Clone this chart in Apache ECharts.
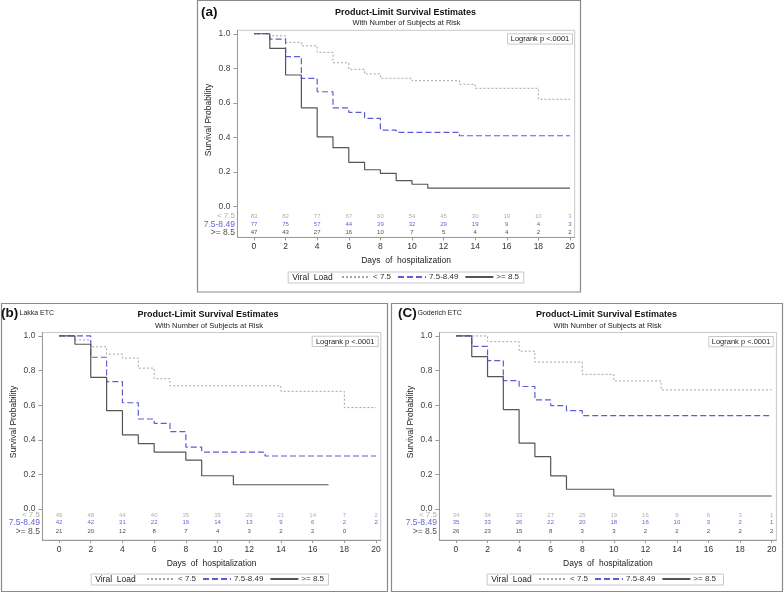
<!DOCTYPE html>
<html><head><meta charset="utf-8">
<script src="https://cdn.jsdelivr.net/npm/echarts@6/dist/echarts.min.js"></script>
<style>html,body{margin:0;padding:0;background:#fff}#c{width:784px;height:593px}</style>
</head><body><div id="c"></div>
<script>
// ---- data ----
const days = [0,2,4,6,8,10,12,14,16,18,20];
const yTicks = [0,0.2,0.4,0.6,0.8,1.0];
const groups = ['< 7.5','7.5-8.49','>= 8.5'];

// Kaplan-Meier step points [day, survival] - panel (a)
const survA_low  = [[0,1],[1,0.988],[2,0.95],[3,0.93],[4,0.892],[5,0.832],[6,0.794],[7,0.767],[8,0.742],[10,0.728],[13,0.707],[14,0.684],[18,0.62],[20,0.62]];
const survA_mid  = [[0,1],[1,0.969],[2,0.867],[3,0.741],[4,0.664],[5,0.571],[6,0.545],[7,0.51],[8,0.442],[9,0.429],[13,0.409],[20,0.409]];
const survA_high = [[0,1],[1,0.915],[2,0.761],[3,0.571],[4,0.403],[5,0.34],[6,0.255],[7,0.212],[8,0.191],[9,0.149],[10,0.128],[11,0.106],[20,0.106]];
// panel (b) Lakka ETC
const survB_low  = [[0,1],[1,0.977],[2,0.937],[3,0.895],[4,0.872],[5,0.814],[6,0.753],[7,0.712],[14,0.68],[18,0.586],[20,0.586]];
const survB_mid  = [[0,1],[2,0.877],[3,0.736],[4,0.614],[5,0.52],[6,0.495],[7,0.447],[8,0.357],[9,0.329],[13,0.306],[20,0.306]];
const survB_high = [[0,1],[1,0.952],[2,0.761],[3,0.568],[4,0.428],[5,0.378],[6,0.329],[8,0.282],[9,0.192],[11,0.14],[17,0.14]];
// panel (c) Goderich ETC
const survC_low  = [[0,1],[2,0.967],[4,0.912],[5,0.849],[8,0.778],[10,0.74],[13,0.688],[20,0.688]];
const survC_mid  = [[0,1],[1,0.94],[2,0.857],[3,0.742],[4,0.708],[5,0.63],[6,0.597],[7,0.568],[8,0.539],[20,0.539]];
const survC_high = [[0,1],[1,0.88],[2,0.765],[3,0.574],[4,0.38],[5,0.302],[6,0.191],[7,0.114],[10,0.075],[20,0.075]];

// number of subjects at risk at days 0,2,...,20
const riskA_low  = [83,82,77,67,60,54,45,30,19,10,3];
const riskA_mid  = [77,75,57,44,39,32,29,19,9,4,3];
const riskA_high = [47,43,27,16,10,7,5,4,4,2,2];
const riskB_low  = [49,48,44,40,35,35,29,21,14,7,2];
const riskB_mid  = [42,42,31,22,19,14,13,9,6,2,2];
const riskB_high = [21,20,12,8,7,4,3,2,2,0,null];
const riskC_low  = [34,34,33,27,25,19,16,9,6,3,1];
const riskC_mid  = [35,33,26,22,20,18,16,10,3,2,1];
const riskC_high = [26,23,15,8,3,3,2,2,2,2,2];

// ---- styling / layout ----
const FONT = '"Liberation Sans", Arial, sans-serif';
const lineColors = ['#a3a3a3','#5c5cd8','#555555'];
const lineTypes = [[2,2],[6,3],'solid'];
const lineWidths = [1,1.2,1.2];
const riskColors = ['#9a9a9a','#3a3acc','#222222'];
const rowLabelColors = ['#9a9a9a','#3a3acc','#222222'];
const XMIN = -1.05, XMAX = 20.3;

const panels = [
  {grid:{left:237.4,top:30.3,width:337.3,height:207.1}, rows:[-0.056,-0.104,-0.153],
   curves:[survA_low,survA_mid,survA_high], risk:[riskA_low,riskA_mid,riskA_high], legendLeft:341, legendTop:273},
  {grid:{left:42.4,top:332.5,width:338.4,height:207.6}, rows:[-0.035,-0.079,-0.129],
   curves:[survB_low,survB_mid,survB_high], risk:[riskB_low,riskB_mid,riskB_high], legendLeft:146, legendTop:575},
  {grid:{left:439.4,top:332.5,width:337,height:207.6}, rows:[-0.035,-0.079,-0.129],
   curves:[survC_low,survC_mid,survC_high], risk:[riskC_low,riskC_mid,riskC_high], legendLeft:538, legendTop:575}
];

const grids=[], xAxes=[], yAxes=[], series=[], legends=[];
panels.forEach((p,i)=>{
  grids.push(Object.assign({show:true,borderColor:'#c8c8c8',borderWidth:1,containLabel:false}, p.grid));
  xAxes.push({gridIndex:i,type:'value',min:XMIN,max:XMAX,
    splitLine:{show:false},
    axisLine:{show:true,onZero:false,lineStyle:{color:'#999',width:1}},
    axisTick:{show:true,customValues:days,length:3,lineStyle:{color:'#999'}},
    axisLabel:{customValues:days,margin:5,fontSize:8.5,color:'#333',fontFamily:FONT},
    name:'Days  of  hospitalization',nameLocation:'middle',nameGap:19,
    nameTextStyle:{fontSize:8.5,color:'#222',fontFamily:FONT}});
  yAxes.push({gridIndex:i,type:'value',min:-0.18,max:1.02,
    splitLine:{show:false},
    axisLine:{show:true,onZero:false,lineStyle:{color:'#999',width:1}},
    axisTick:{show:true,customValues:yTicks,length:4,lineStyle:{color:'#999'}},
    axisLabel:{customValues:yTicks,margin:7,fontSize:8.5,color:'#444',fontFamily:FONT,
      formatter:v=>v.toFixed(1)}});
  p.curves.forEach((c,k)=>{
    series.push({name:groups[k],type:'line',step:'end',symbol:'none',xAxisIndex:i,yAxisIndex:i,
      data:c,color:lineColors[k],z:2+k,
      lineStyle:{color:lineColors[k],width:lineWidths[k],type:lineTypes[k]}});
  });
  // at-risk numbers
  p.risk.forEach((arr,k)=>{
    const d=[];
    arr.forEach((n,j)=>{ if(n!==null) d.push([days[j],p.rows[k],n]); });
    series.push({name:'risk'+i+'_'+k,type:'scatter',xAxisIndex:i,yAxisIndex:i,silent:true,
      symbol:'circle',symbolSize:1,itemStyle:{color:'rgba(0,0,0,0)'},data:d,z:5,
      labelLayout:{hideOverlap:false},
      label:{show:true,position:'inside',formatter:q=>String(q.value[2]),fontSize:6,color:riskColors[k],fontFamily:FONT}});
  });
  // at-risk row names (left of the axis)
  series.push({name:'rows'+i,type:'scatter',xAxisIndex:i,yAxisIndex:i,silent:true,
    symbol:'circle',symbolSize:1,itemStyle:{color:'rgba(0,0,0,0)'},z:5,
    data:p.rows.map((r,k)=>({value:[XMIN,r],name:groups[k],
      label:{color:rowLabelColors[k],fontSize:k===0?8:8.5}})),
    label:{show:true,position:'left',distance:2,formatter:q=>q.name,fontFamily:FONT}});
  legends.push({left:p.legendLeft,top:p.legendTop,data:groups,itemWidth:28,itemHeight:8,itemGap:6,padding:0,
    selectedMode:false,itemStyle:{opacity:0},
    textStyle:{fontSize:8,color:'#333',fontFamily:FONT,padding:[0,0,0,-2]}});
});

function txt(x,y,text,font,fill,align,rot){
  return {type:'text',x:x,y:y,rotation:rot||0,silent:true,
    style:{text:text,font:font,fill:fill||'#222',align:align||'left',textAlign:align||'left',verticalAlign:'middle',textVerticalAlign:'middle'}};
}
function box(x,y,w,h,stroke,lw){
  return {type:'rect',silent:true,shape:{x:x,y:y,width:w,height:h},style:{fill:'none',stroke:stroke,lineWidth:lw||1}};
}
const g=[];
// panel frames
g.push(box(197.5,0.5,383,291.5,'#8a8a8a',1.2));
g.push(box(1.5,303.5,386,288,'#8a8a8a',1.2));
g.push(box(391.5,303.5,391,288,'#8a8a8a',1.2));
// panel labels
g.push(txt(201,12,'(a)','bold 13.5px '+FONT,'#111'));
g.push(txt(1,313,'(b)','bold 13.5px '+FONT,'#111'));
g.push(txt(19.5,313,'Lakka ETC','7px '+FONT,'#222'));
g.push(txt(398,313,'(C)','bold 13.5px '+FONT,'#111'));
g.push(txt(417.5,313,'Goderich ETC','7px '+FONT,'#222'));
// titles
[[405.5,12.7,23],[208,315,325.5],[606.5,315,325.5]].forEach(t=>{
  g.push(txt(t[0],t[1],'Product-Limit Survival Estimates','bold 9px '+FONT,'#111','center'));
  g.push(txt(t[0]+1,t[2],'With Number of Subjects at Risk','7.5px '+FONT,'#222','center'));
});
// y axis names
[[208.5,120],[13.5,422],[411,422]].forEach(t=>{
  g.push(txt(t[0],t[1],'Survival Probability','8.5px '+FONT,'#222','center',Math.PI/2));
});
// logrank boxes
[[507,33.3,65,10.3],[311.7,335.7,66,10.3],[708.3,336,64.5,10.3]].forEach(b=>{
  g.push(box(b[0]+0.5,b[1]+0.5,b[2],b[3],'#c8c8c8',1));
  g.push(txt(b[0]+b[2]/2+0.5,b[1]+b[3]/2+0.7,'Logrank p <.0001','7.5px '+FONT,'#222','center'));
});
// legend frames + header
[[287.7,271.5,235.6,11],[90.7,573.5,237.3,11],[486.7,573.5,236.3,11]].forEach(b=>{
  g.push(box(b[0]+0.5,b[1]+0.5,b[2],b[3],'#c8c8c8',1));
  g.push(txt(b[0]+4.5,b[1]+b[3]/2+1,'Viral  Load','8.5px '+FONT,'#222','left'));
});

const chart = echarts.init(document.getElementById('c'),null,{renderer:'canvas'});
chart.setOption({
  animation:false,
  textStyle:{fontFamily:FONT},
  grid:grids, xAxis:xAxes, yAxis:yAxes, series:series, legend:legends,
  graphic:{elements:g}
});
</script></body></html>
